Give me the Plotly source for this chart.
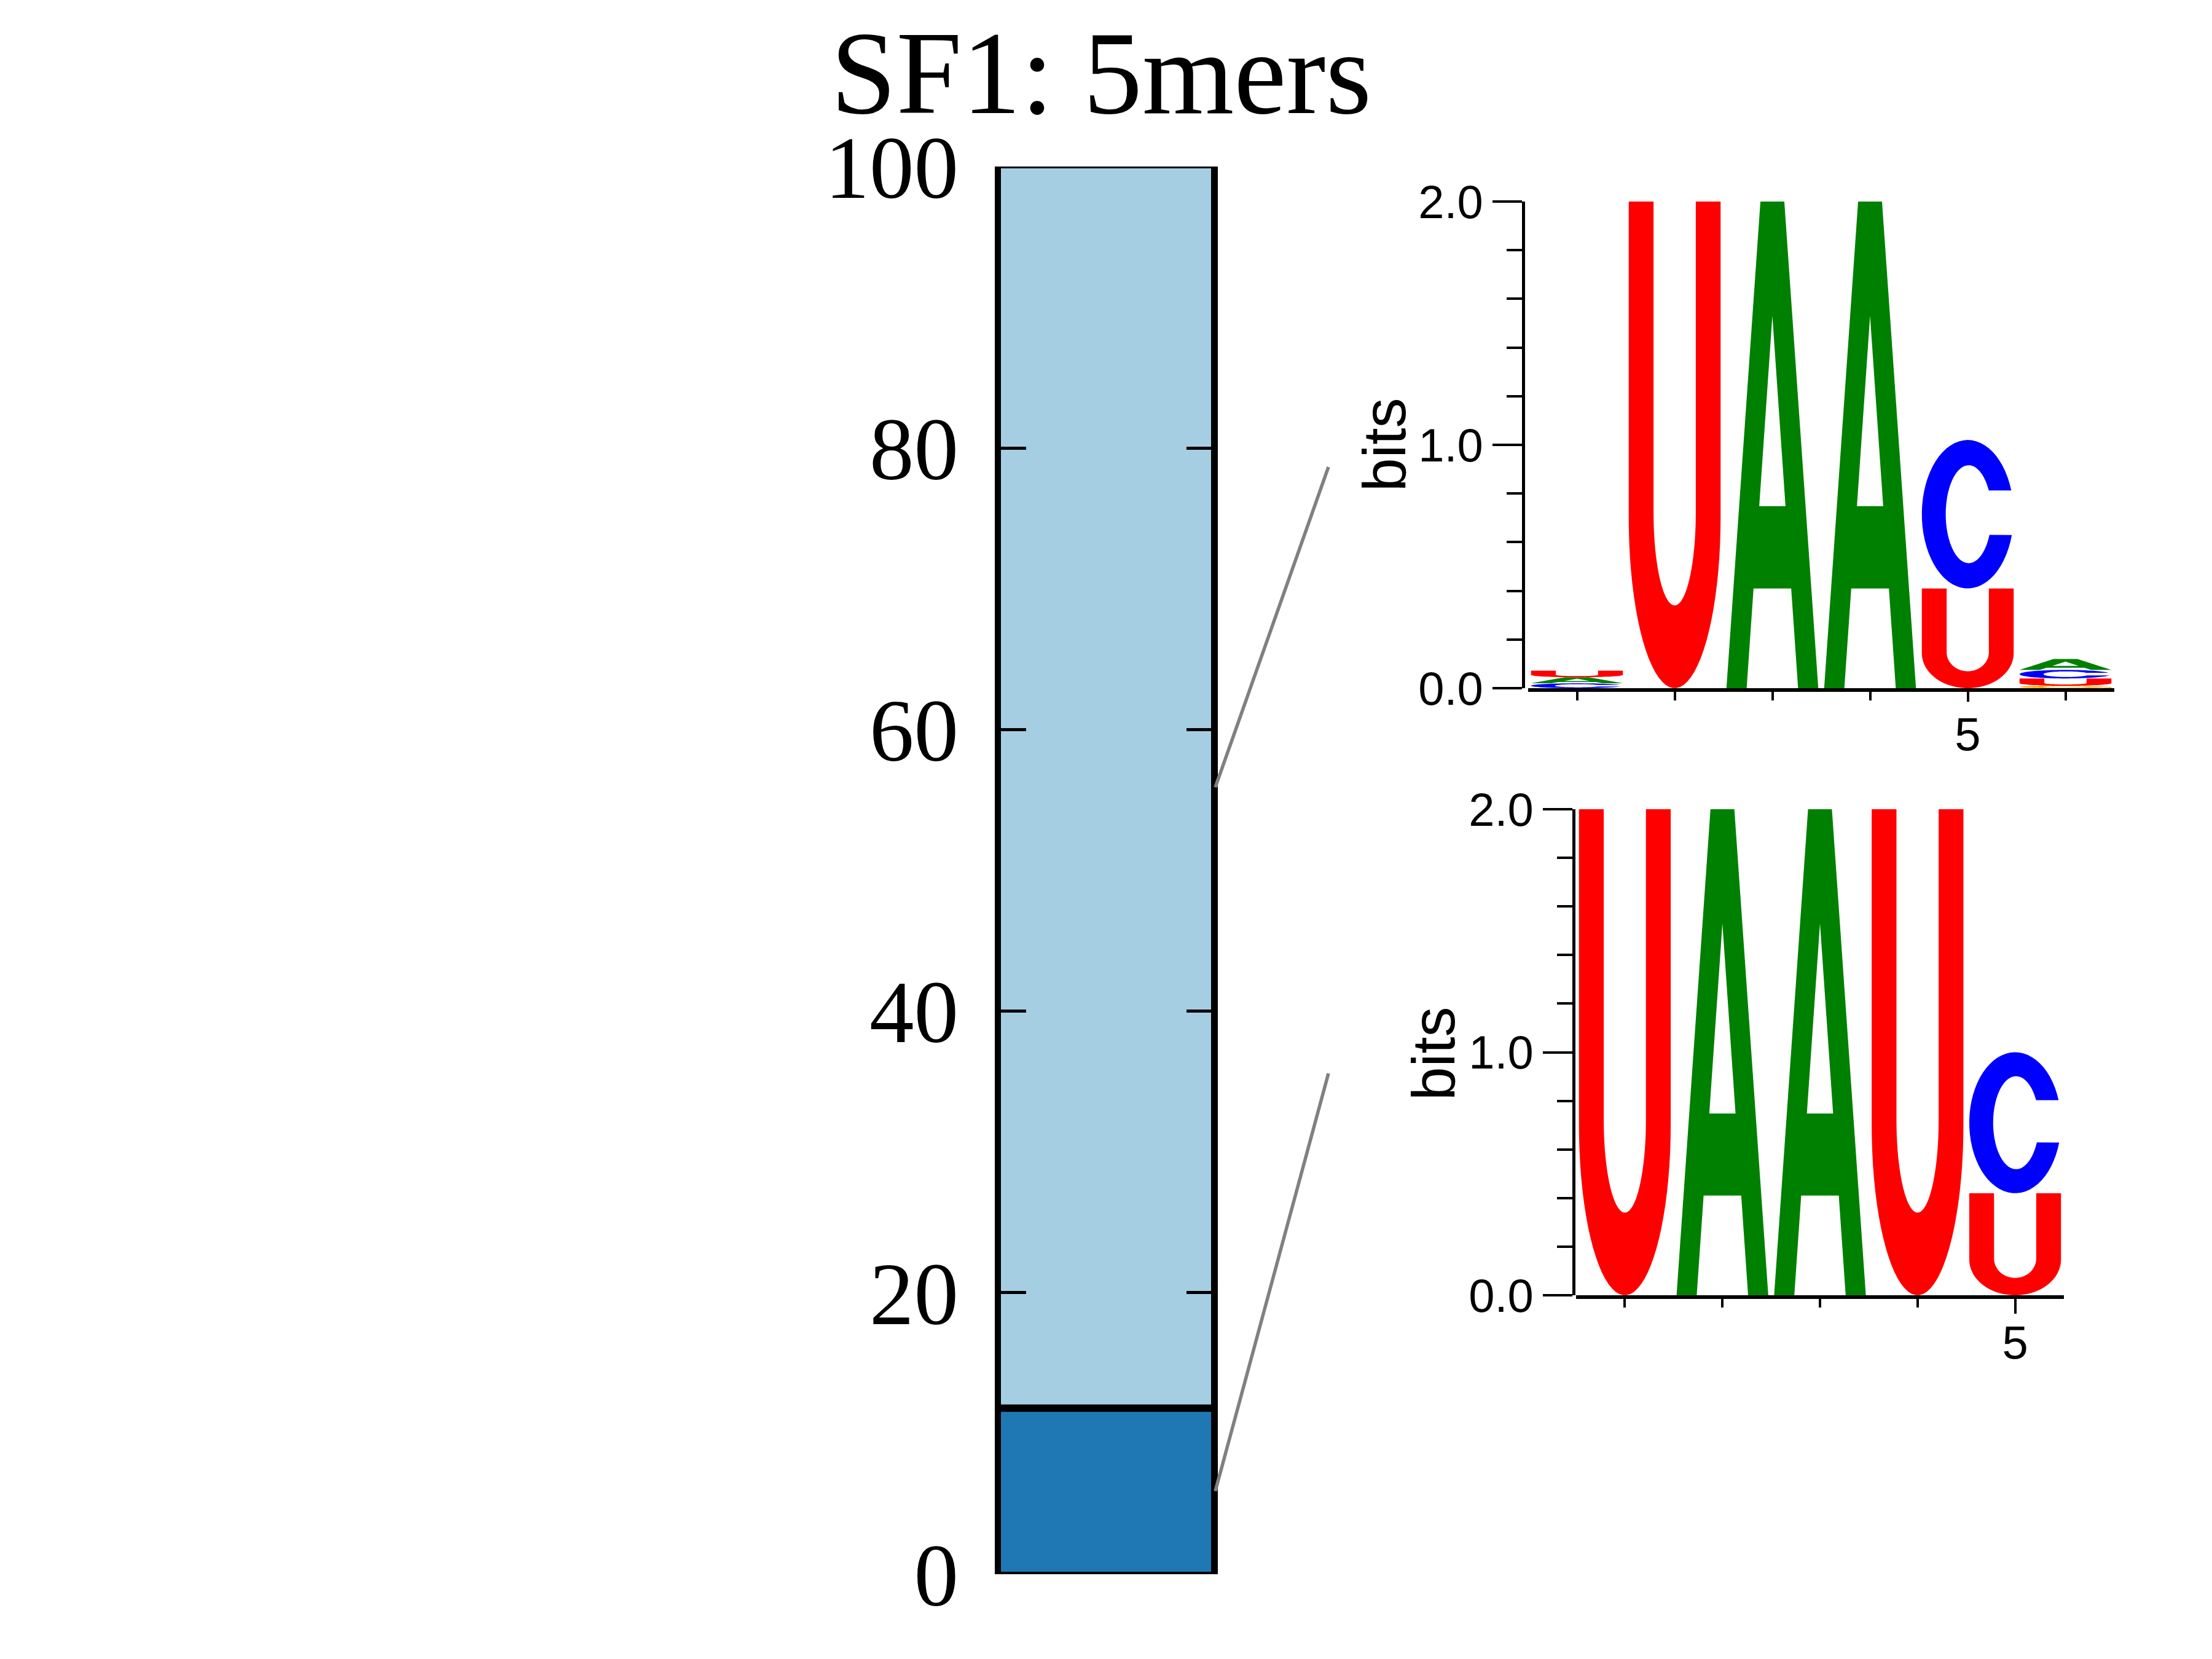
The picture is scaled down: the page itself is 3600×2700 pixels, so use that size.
import math
import numpy as np
import plotly.graph_objects as go

# ---------------- data ----------------
categories = ["SF1"]
segment_names = ["UAAUC-like", "UAAC-like"]
segment_values = [11.8, 88.2]
segment_colors = ["#1f78b4", "#a6cee3"]
bar_ticks = [0, 20, 40, 60, 80, 100]

letters = ["A", "C", "G", "U"]
letter_colors = {"A": "#008000", "C": "#0000ff", "G": "#ffa500", "U": "#ff0000"}

logo1_positions = [1, 2, 3, 4, 5, 6]
logo1_A = [0.025, 0.0, 2.0, 2.0, 0.0, 0.045]
logo1_C = [0.02, 0.0, 0.0, 0.0, 0.61, 0.035]
logo1_G = [0.0, 0.0, 0.0, 0.0, 0.0, 0.01]
logo1_U = [0.027, 2.0, 0.0, 0.0, 0.41, 0.03]

logo2_positions = [1, 2, 3, 4, 5]
logo2_A = [0.0, 2.0, 2.0, 0.0, 0.0]
logo2_C = [0.0, 0.0, 0.0, 0.0, 0.58]
logo2_G = [0.0, 0.0, 0.0, 0.0, 0.0]
logo2_U = [2.0, 0.0, 0.0, 2.0, 0.42]

logo_yticks = [0, 1, 2]
logo_yticktext = ["0.0", "1.0", "2.0"]

# ---------------- layout helpers ----------------
W, H = 3600, 2700
OFF = 8  # page body margin
def px(x): return (x - OFF) / W
def py(y): return 1 - (y - OFF) / H

main_xdom = [px(1626), px(1975)]
main_ydom = [py(2562), py(271)]
l1_xdom = [px(2487), px(3441)]
l1_ydom = [py(1120), py(328)]
l1_ypos = px(2479)
l2_xdom = [px(2565), px(3359)]
l2_ydom = [py(2108), py(1317)]
l2_ypos = px(2561)

# ---------------- glyph templates (unit box) ----------------
def arc(cx, cy, rx, ry, a0, a1, n=40):
    t = np.radians(np.linspace(a0, a1, n))
    return [(cx + rx * math.cos(a), cy + ry * math.sin(a)) for a in t]

def tmpl_U():
    pts = [(0, 1), (0, 0.35)]
    pts += arc(0.5, 0.35, 0.5, 0.35, 180, 360)
    pts += [(1, 1), (0.73, 1), (0.73, 0.36)]
    pts += arc(0.5, 0.36, 0.23, 0.19, 0, -180)
    pts += [(0.27, 1)]
    return [pts]

def tmpl_A():
    outer = [(0, 0), (0.37, 1), (0.63, 1), (1, 0), (0.78, 0), (0.705, 0.205),
             (0.295, 0.205), (0.22, 0)]
    hole = [(0.357, 0.374), (0.643, 0.374), (0.5, 0.765)]
    return [outer, hole]

def tmpl_C():
    pts = arc(0.5, 0.5, 0.5, 0.5, 18.7, 343.7, 60)
    pts += arc(0.51, 0.5, 0.25, 0.33, 335, 29, 60)
    return [pts]

def tmpl_G():
    pts = arc(0.5, 0.5, 0.5, 0.5, 18.7, 360, 60)
    pts += [(1, 0.0), (0.9, 0.0), (0.9, 0.42), (0.55, 0.42), (0.55, 0.52), (0.76, 0.52)]
    pts += arc(0.51, 0.5, 0.25, 0.33, 355, 29, 60)
    return [pts]

TEMPLATES = {"A": tmpl_A(), "C": tmpl_C(), "G": tmpl_G(), "U": tmpl_U()}

def glyph_path(letter, xc, y0, h, w=0.94):
    parts = []
    for poly in TEMPLATES[letter]:
        coords = [(xc - w / 2 + u * w, y0 + v * h) for u, v in poly]
        s = "M " + " L ".join(f"{x:.5f},{y:.5f}" for x, y in coords) + " Z"
        parts.append(s)
    return " ".join(parts)

def logo_shapes(positions, heights, xref, yref):
    shapes = []
    for i, pos in enumerate(positions):
        col = sorted([(heights[L][i], L) for L in letters if heights[L][i] > 0])
        base = 0.0
        for h, L in col:
            shapes.append(dict(type="path", path=glyph_path(L, pos, base, h),
                               xref=xref, yref=yref, fillcolor=letter_colors[L],
                               line=dict(width=0), layer="above"))
            base += h
    return shapes

# ---------------- figure ----------------
fig = go.Figure()
for name, val, colr in zip(segment_names, segment_values, segment_colors):
    fig.add_trace(go.Bar(x=[0] * len(categories), y=[val], name=name, width=1,
                         marker=dict(color=colr, line=dict(color="black", width=7)),
                         cliponaxis=False, xaxis="x", yaxis="y", showlegend=False))

fig.add_trace(go.Scatter(x=[logo1_positions[0]], y=[0], mode="markers",
                         marker=dict(opacity=0), xaxis="x2", yaxis="y2",
                         showlegend=False, hoverinfo="skip"))
fig.add_trace(go.Scatter(x=[logo2_positions[0]], y=[0], mode="markers",
                         marker=dict(opacity=0), xaxis="x3", yaxis="y3",
                         showlegend=False, hoverinfo="skip"))

shapes = []
cum = np.cumsum(segment_values)
for c in cum[:-1]:
    shapes.append(dict(type="line", xref="x", yref="y", x0=-0.5, x1=0.5, y0=c, y1=c,
                       line=dict(color="black", width=12), layer="above"))

mids = cum - np.array(segment_values) / 2
ends = [(px(2162), py(1747)), (px(2162), py(760))]
for m, (ex, ey) in zip(mids, ends):
    sy = main_ydom[0] + (m / 100.0) * (main_ydom[1] - main_ydom[0])
    shapes.append(dict(type="line", xref="paper", yref="paper",
                       x0=main_xdom[1] + 0.0008, y0=sy, x1=ex, y1=ey,
                       line=dict(color="#808080", width=5.5)))

shapes += logo_shapes(logo1_positions,
                      {"A": logo1_A, "C": logo1_C, "G": logo1_G, "U": logo1_U}, "x2", "y2")
shapes += logo_shapes(logo2_positions,
                      {"A": logo2_A, "C": logo2_C, "G": logo2_G, "U": logo2_U}, "x3", "y3")

serif = "Liberation Serif"
sans = "Liberation Sans"

def logo_xaxis(dom, positions, anchor, majlen, standoff):
    return dict(domain=dom, anchor=anchor, range=[positions[0] - 0.5, positions[-1] + 0.5],
                automargin=False, ticklabelstandoff=standoff,
                showline=True, linecolor="black", linewidth=6, showgrid=False, zeroline=False,
                ticks="outside", tickmode="array", tickvals=[5], ticktext=["5"],
                ticklen=majlen, tickwidth=4, tickcolor="black",
                tickfont=dict(family=sans, size=76, color="black"),
                minor=dict(ticks="outside", tickmode="array",
                           tickvals=[p for p in positions if p != 5],
                           ticklen=14, tickwidth=4, tickcolor="black"))

def logo_yaxis(dom, pos):
    return dict(domain=dom, anchor="free", position=pos, range=[0, 2], automargin=False,
                showline=True, linecolor="black", linewidth=5, showgrid=False, zeroline=False,
                ticks="outside", tickmode="array", tickvals=logo_yticks, ticktext=logo_yticktext,
                ticklen=48, tickwidth=4, tickcolor="black",
                tickfont=dict(family=sans, size=76, color="black"),
                minor=dict(ticks="outside", dtick=0.2, tick0=0, ticklen=25, tickwidth=4,
                           tickcolor="black"))

fig.update_layout(
    width=W, height=H, margin=dict(l=0, r=0, t=0, b=0, autoexpand=False),
    paper_bgcolor="white", plot_bgcolor="white",
    barmode="stack", bargap=0,
    xaxis=dict(domain=main_xdom, anchor="y", range=[-0.5, 0.5], showticklabels=False,
               automargin=False,
               ticks="", showgrid=False, zeroline=False, showline=False),
    yaxis=dict(domain=main_ydom, anchor="x", range=[0, 100], tickvals=bar_ticks,
               automargin=False,
               ticks="inside", ticklen=44, tickwidth=5, tickcolor="black",
               mirror="ticks", showline=True, linecolor="black", linewidth=7,
               showgrid=False, zeroline=False, ticklabelstandoff=30,
               tickfont=dict(family=serif, size=145, color="black")),
    xaxis2=logo_xaxis(l1_xdom, logo1_positions, "y2", 16, -12),
    yaxis2=logo_yaxis(l1_ydom, l1_ypos),
    xaxis3=logo_xaxis(l2_xdom, logo2_positions, "y3", 24, -18),
    yaxis3=logo_yaxis(l2_ydom, l2_ypos),
    shapes=shapes,
    annotations=[
        dict(text="SF1: 5mers", x=px(1792), y=py(120), xref="paper", yref="paper",
             xanchor="center", yanchor="middle", showarrow=False,
             font=dict(family=serif, size=192, color="black")),
        dict(text="bits", x=px(2253), y=py(724), xref="paper", yref="paper",
             xanchor="center", yanchor="middle", showarrow=False, textangle=-90,
             font=dict(family=sans, size=98, color="black")),
        dict(text="bits", x=px(2333), y=py(1715), xref="paper", yref="paper",
             xanchor="center", yanchor="middle", showarrow=False, textangle=-90,
             font=dict(family=sans, size=98, color="black")),
    ],
)

fig.write_html("out.html")
